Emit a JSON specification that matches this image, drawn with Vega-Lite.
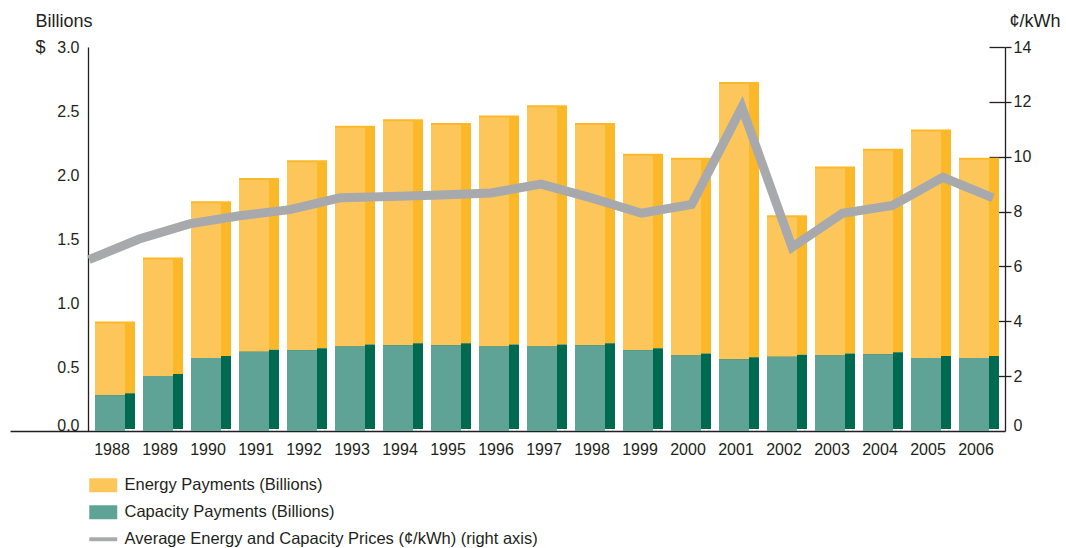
{
  "$schema": "https://vega.github.io/schema/vega-lite/v6.json",
  "width": 995,
  "height": 384,
  "autosize": "none",
  "padding": {"left": 10, "top": 47, "right": 61, "bottom": 117},
  "background": "white",
  "config": {
    "view": {"stroke": null},
    "font": "Liberation Sans",
    "axis": {"labelFont": "Liberation Sans", "titleFont": "Liberation Sans", "labelColor": "#231F20", "titleColor": "#231F20", "grid": false, "titleFontWeight": "normal"},
    "legend": {"labelFont": "Liberation Sans", "labelColor": "#231F20"}
  },
  "datasets": {
    "pay": [
      {"year": "1988", "series": "Energy Payments (Billions)", "value": 0.56},
      {"year": "1989", "series": "Energy Payments (Billions)", "value": 0.91},
      {"year": "1990", "series": "Energy Payments (Billions)", "value": 1.21},
      {"year": "1991", "series": "Energy Payments (Billions)", "value": 1.34},
      {"year": "1992", "series": "Energy Payments (Billions)", "value": 1.47},
      {"year": "1993", "series": "Energy Payments (Billions)", "value": 1.71},
      {"year": "1994", "series": "Energy Payments (Billions)", "value": 1.75},
      {"year": "1995", "series": "Energy Payments (Billions)", "value": 1.72},
      {"year": "1996", "series": "Energy Payments (Billions)", "value": 1.79},
      {"year": "1997", "series": "Energy Payments (Billions)", "value": 1.87},
      {"year": "1998", "series": "Energy Payments (Billions)", "value": 1.72},
      {"year": "1999", "series": "Energy Payments (Billions)", "value": 1.52},
      {"year": "2000", "series": "Energy Payments (Billions)", "value": 1.53},
      {"year": "2001", "series": "Energy Payments (Billions)", "value": 2.15},
      {"year": "2002", "series": "Energy Payments (Billions)", "value": 1.09},
      {"year": "2003", "series": "Energy Payments (Billions)", "value": 1.46},
      {"year": "2004", "series": "Energy Payments (Billions)", "value": 1.59},
      {"year": "2005", "series": "Energy Payments (Billions)", "value": 1.77},
      {"year": "2006", "series": "Energy Payments (Billions)", "value": 1.55},
      {"year": "1988", "series": "Capacity Payments (Billions)", "value": 0.28},
      {"year": "1989", "series": "Capacity Payments (Billions)", "value": 0.43},
      {"year": "1990", "series": "Capacity Payments (Billions)", "value": 0.57},
      {"year": "1991", "series": "Capacity Payments (Billions)", "value": 0.62},
      {"year": "1992", "series": "Capacity Payments (Billions)", "value": 0.63},
      {"year": "1993", "series": "Capacity Payments (Billions)", "value": 0.66},
      {"year": "1994", "series": "Capacity Payments (Billions)", "value": 0.67},
      {"year": "1995", "series": "Capacity Payments (Billions)", "value": 0.67},
      {"year": "1996", "series": "Capacity Payments (Billions)", "value": 0.66},
      {"year": "1997", "series": "Capacity Payments (Billions)", "value": 0.66},
      {"year": "1998", "series": "Capacity Payments (Billions)", "value": 0.67},
      {"year": "1999", "series": "Capacity Payments (Billions)", "value": 0.63},
      {"year": "2000", "series": "Capacity Payments (Billions)", "value": 0.59},
      {"year": "2001", "series": "Capacity Payments (Billions)", "value": 0.56},
      {"year": "2002", "series": "Capacity Payments (Billions)", "value": 0.58},
      {"year": "2003", "series": "Capacity Payments (Billions)", "value": 0.59},
      {"year": "2004", "series": "Capacity Payments (Billions)", "value": 0.60},
      {"year": "2005", "series": "Capacity Payments (Billions)", "value": 0.57},
      {"year": "2006", "series": "Capacity Payments (Billions)", "value": 0.57}
    ],
    "price": [
      {"year": "1988", "price": 6.25},
      {"year": "1989", "price": 7.0},
      {"year": "1990", "price": 7.55},
      {"year": "1991", "price": 7.85},
      {"year": "1992", "price": 8.07},
      {"year": "1993", "price": 8.5},
      {"year": "1994", "price": 8.55},
      {"year": "1995", "price": 8.6},
      {"year": "1996", "price": 8.68},
      {"year": "1997", "price": 9.0},
      {"year": "1998", "price": 8.5},
      {"year": "1999", "price": 7.94},
      {"year": "2000", "price": 8.26},
      {"year": "2001", "price": 11.8},
      {"year": "2002", "price": 6.7},
      {"year": "2003", "price": 7.94},
      {"year": "2004", "price": 8.22},
      {"year": "2005", "price": 9.25},
      {"year": "2006", "price": 8.5}
    ]
  },
  "layer": [
    {
      "data": {"name": "pay"},
      "layer": [
        {
          "mark": {"type": "bar", "yOffset": -2},
          "encoding": {
            "x": {"field": "year", "type": "ordinal", "scale": {"paddingInner": 0.1667, "paddingOuter": 0.948, "align": 0.934},
              "axis": {"orient": "bottom", "ticks": false, "domainColor": "#231F20", "domainWidth": 1.5, "labelPadding": 10, "labelFontSize": 16, "labelAngle": 0, "labelOffset": -3, "title": null}},
            "y": {"field": "value", "type": "quantitative", "stack": "zero", "scale": {"domain": [0, 3]},
              "axis": {"orient": "left", "offset": -78, "ticks": false, "domainColor": "#231F20", "domainWidth": 1.3, "labelFontSize": 16, "labelPadding": 9, "format": ".1f", "values": [0, 0.5, 1, 1.5, 2, 2.5, 3],
                "labelOffset": {"condition": {"test": "datum.value === 0", "value": -6}, "value": 0},
                "title": ["Billions", "$"], "titleAngle": 0, "titleAlign": "left", "titleBaseline": "alphabetic", "titleX": -53, "titleY": -21, "titleFontSize": 18, "titleLineHeight": 26}},
            "fill": {"field": "series", "type": "nominal", "scale": {"domain": ["Energy Payments (Billions)", "Capacity Payments (Billions)"], "range": ["#FBB828", "#006A50"]}, "legend": null},
            "order": {"field": "series", "sort": "ascending"}
          }
        },
        {
          "mark": {"type": "bar", "width": {"band": 0.75}, "xOffset": -5},
          "encoding": {
            "x": {"field": "year", "type": "ordinal"},
            "y": {"field": "value", "type": "quantitative", "stack": "zero"},
            "color": {"field": "series", "type": "nominal",
              "scale": {"domain": ["Energy Payments (Billions)", "Capacity Payments (Billions)", "Average Energy and Capacity Prices (¢/kWh) (right axis)"], "range": ["#FDC65B", "#5FA396", "#A7A9AC"]},
              "legend": {"orient": "none", "legendX": 85, "legendY": 430, "title": null, "padding": 0, "labelFontSize": 16.5, "labelLimit": 0, "labelOffset": 13, "rowPadding": 10, "symbolSize": 196, "symbolType": "M-2,-1H2V1H-2Z",
                "encode": {"symbols": {"update": {
                  "shape": {"signal": "datum.value === 'Average Energy and Capacity Prices (¢/kWh) (right axis)' ? 'M-2,-0.28H2V0.28H-2Z' : 'M-2,-1H2V1H-2Z'"},
                  "fill": {"signal": "scale('color', datum.value)"},
                  "stroke": {"value": "transparent"},
                  "strokeWidth": {"value": 0},
                  "opacity": {"value": 1}
                }}}}},
            "order": {"field": "series", "sort": "ascending"}
          }
        }
      ]
    },
    {
      "data": {"name": "price"},
      "mark": {"type": "line", "strokeWidth": 9, "strokeJoin": "miter", "strokeCap": "butt"},
      "encoding": {
        "x": {"field": "year", "type": "ordinal", "scale": {"type": "point", "range": [79, 983], "padding": 0}, "axis": null},
        "y": {"field": "price", "type": "quantitative", "scale": {"domain": [0, 14]},
          "axis": {"orient": "right", "values": [0, 2, 4, 6, 8, 10, 12, 14], "tickSize": 6, "tickWidth": 1.3, "tickColor": "#231F20", "domainColor": "#231F20", "domainWidth": 1.3, "labelPadding": 2, "labelFontSize": 16,
            "tickOpacity": {"condition": {"test": "datum.value === 0", "value": 0}, "value": 1},
            "labelOffset": {"condition": {"test": "datum.value === 0", "value": -6}, "value": 0},
            "title": "¢/kWh", "titleAngle": 0, "titleAlign": "left", "titleBaseline": "alphabetic", "titleX": 4, "titleY": -21, "titleFontSize": 18}},
        "color": {"datum": "Average Energy and Capacity Prices (¢/kWh) (right axis)"}
      }
    },
    {
      "data": {"name": "price"},
      "mark": {"type": "line", "opacity": 0},
      "encoding": {
        "x": {"field": "year", "type": "ordinal", "scale": {"type": "point", "range": [79, 983], "padding": 0}, "axis": null},
        "y": {"field": "price", "type": "quantitative", "scale": {"domain": [0, 14]},
          "axis": {"orient": "right", "offset": -16, "values": [2, 4, 6, 8, 10, 12, 14], "tickSize": 16, "tickWidth": 1.3, "tickColor": "#231F20", "domain": false, "labels": false, "title": null}}
      }
    }
  ],
  "resolve": {"scale": {"x": "independent", "y": "independent"}}
}
